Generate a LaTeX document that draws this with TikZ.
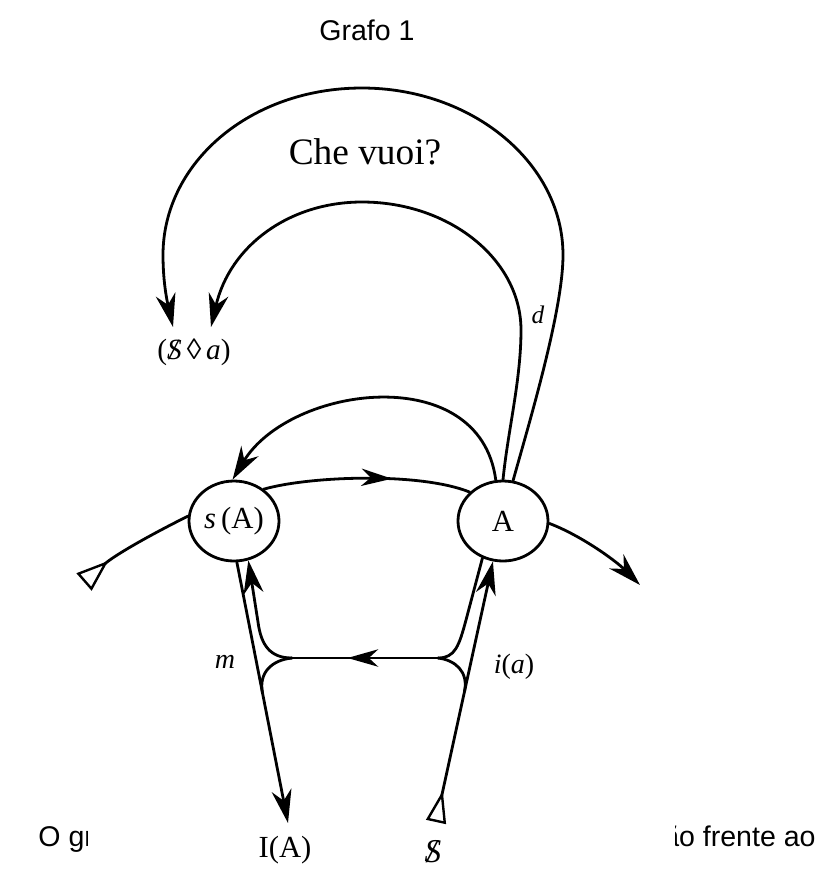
\documentclass[tikz,border=0pt]{standalone}
\usepackage{fontspec}
\setmainfont{Liberation Serif}
\newfontfamily\sansf{Liberation Sans}
\usetikzlibrary{arrows.meta,shapes.geometric,decorations.markings,calc}
\newcommand\barS{\ooalign{\hfil\textit{S}\hfil\cr\hfil\textit{/}\hfil\cr}}
\begin{document}
\begin{tikzpicture}[x=0.75pt,y=-0.75pt,line width=2.1pt,line cap=round,line join=round,
  circ/.style={draw,ellipse,minimum width=67.5pt,minimum height=60pt,inner sep=0pt,font=\fontsize{23}{23}\selectfont},
  lbl/.style={inner sep=0pt,font=\fontsize{22}{22}\selectfont},
  big/.style={-{Stealth[length=25pt,width=15pt,inset=8pt]}},
  trist/.style={{Triangle[open,reversed,length=24pt,width=17pt,line width=1.8pt]}-},
  tribig/.style={{Triangle[open,reversed,length=24pt,width=15pt,line width=1.8pt]}-{Stealth[length=25pt,width=15pt,inset=8pt]}},
  midarr/.style={postaction={decorate},decoration={markings,mark=at position #1 with {\arrow{Stealth[length=23pt,width=13pt,inset=7pt]}}}},
  sanslbl/.style={inner sep=0pt,font=\sansf\fontsize{21.4}{24}\selectfont}]
\useasboundingbox (0,0) rectangle (816,869);

% nodes
\node[circ] (sA) at (234,521) {\textit{s}\,(A)};
\node[circ] (A) at (503,521) {A};
\node[lbl] (Sa) at (194,352) {(\barS\,◊\,\textit{a})};
\node[lbl,font=\fontsize{23}{23}\selectfont] (IA) at (285,850) {I(A)};
\node[lbl,font=\fontsize{25}{25}\selectfont] (Sb) at (433,852) {\barS};
\node[lbl,font=\fontsize{21}{21}\selectfont] (m) at (225,662) {\textit{m}};
\node[lbl,font=\fontsize{21}{21}\selectfont] (ia) at (514,667) {\textit{i}(\textit{a})};
\node[lbl,font=\fontsize{19}{19}\selectfont] (d) at (538,315) {\textit{d}};
\node[lbl,font=\fontsize{28}{28}\selectfont] (che) at (365,152) {Che vuoi?};
\node[sanslbl] (title) at (367,30) {Grafo 1};

% free ends
\coordinate (t1) at (173,327);
\coordinate (t2) at (211,327);
\coordinate (tl) at (84,582);
\coordinate (tr) at (640,585);
\coordinate (tIA) at (288,823);
\coordinate (tS) at (436,822);
\coordinate (jl) at (292,658);
\coordinate (jr) at (438,658);
\coordinate (ml) at ($(sA.-86)!0.5!(tIA)$);
\coordinate (sr) at ($(tS)!0.5!(A.-104)$);

% upper arcs
\draw[big] (A.76) .. controls (530,420) and (563,310) .. (563,255)
  .. controls (563,163) and (472,88) .. (362,88)
  .. controls (250,88) and (163,163) .. (163,255)
  .. controls (163,285) and (168,305) .. (t1);
\draw[big] (A.90) .. controls (508,430) and (521,380) .. (521,330)
  .. controls (521,260) and (450,202) .. (362,202)
  .. controls (290,202) and (230,245) .. (t2);

% between circles
\draw[big] (A.100) .. controls (480,360) and (290,385) .. (sA.92);
\draw[midarr=0.62] (sA.47) .. controls (310,476) and (420,472) .. (A.139);
\draw[trist] (tl) .. controls (115,555) and (150,535) .. (sA.174);
\draw[big] (A.-3) .. controls (580,535) and (615,560) .. (tr);

% lower part
\draw[big] (sA.-86) -- (tIA);
\draw[tribig] (tS) -- (A.-104);
\draw[midarr=0.62] (jr) -- (jl);
\draw[big] (jl) .. controls (270,658) and (261,645) .. (258,622) -- (sA.-70);
\draw (jl) .. controls (272,660) and (258.6,672.4) .. (ml);
\draw (jr) .. controls (455,658) and (459,646) .. (466,620) -- (A.-119);
\draw (jr) .. controls (455,660) and (468.8,671.5) .. (sr);

% page text partly hidden behind the figure
\begin{scope}
  \clip (0,800) rectangle (87,869);
  \node[sanslbl,anchor=base west] (txl) at (37,846) {O grafo};
\end{scope}
\begin{scope}
  \clip (675,800) rectangle (816,869);
  \node[sanslbl,anchor=base east] (txr) at (817,846) {ão frente ao};
\end{scope}
\end{tikzpicture}
\end{document}
